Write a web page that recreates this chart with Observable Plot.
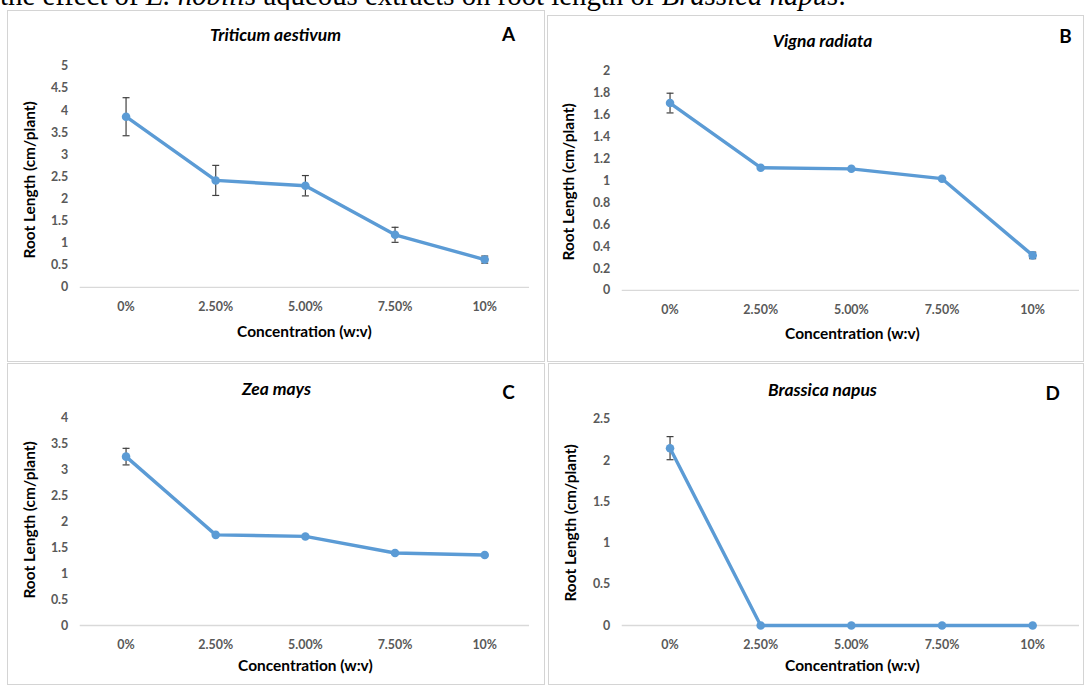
<!DOCTYPE html>
<html><head><meta charset="utf-8">
<script src="https://cdn.jsdelivr.net/npm/d3@7"></script>
<script src="https://cdn.jsdelivr.net/npm/@observablehq/plot@0.6"></script>
<style>
body{margin:0;background:#fff;}
#page{position:relative;width:1084px;height:685px;overflow:hidden;background:#fff;}
.panel{position:absolute;box-sizing:border-box;border:1.5px solid #d4d4d4;}
.panel svg{position:absolute;left:-1.5px;top:-1.5px;}
#caption{position:absolute;left:0px;top:-19px;font-family:"Liberation Serif","Times New Roman",serif;font-size:28.8px;line-height:28.8px;white-space:nowrap;color:#000;}
</style></head><body>
<div id="page"><div id="caption">the effect of <i>E. nobilis</i> aqueous extracts on root length of <i>Brassica napus</i>.</div></div>
<script>
// ---- data ----
const concentrations = ["0%", "2.50%", "5.00%", "7.50%", "10%"];
const triticumMean = [3.86, 2.42, 2.30, 1.19, 0.63];
const triticumErr  = [0.43, 0.34, 0.23, 0.17, 0.08];
const vignaMean    = [1.71, 1.12, 1.11, 1.02, 0.32];
const vignaErr     = [0.09, 0, 0, 0, 0.03];
const zeaMean      = [3.26, 1.75, 1.72, 1.40, 1.36];
const zeaErr       = [0.16, 0, 0, 0, 0];
const brassicaMean = [2.15, 0, 0, 0, 0];
const brassicaErr  = [0.14, 0, 0, 0, 0];
const ticksA = [0, 0.5, 1, 1.5, 2, 2.5, 3, 3.5, 4, 4.5, 5];
const ticksB = [0, 0.2, 0.4, 0.6, 0.8, 1, 1.2, 1.4, 1.6, 1.8, 2];
const ticksC = [0, 0.5, 1, 1.5, 2, 2.5, 3, 3.5, 4];
const ticksD = [0, 0.5, 1, 1.5, 2, 2.5];
const speciesTitles = ["Triticum aestivum", "Vigna radiata", "Zea mays", "Brassica napus"];
const panelLetters = ["A", "B", "C", "D"];
const yAxisTitle = "Root Length (cm/plant)";
const xAxisTitle = "Concentration (w:v)";

const BLUE = "#5b9bd5";
const FONT = "Lato, 'Open Sans', sans-serif";
const cap = {draw(ctx) { ctx.moveTo(-3.5, 0); ctx.lineTo(3.5, 0); }};

const panels = [
  {mean: triticumMean, err: triticumErr, ticks: ticksA, box: [7, 10, 538, 352],
   m: [56, 14, 74, 73], title: [269, 25], letter: [503, 25], ylab: [22.5, 170], xlab: [298, 323]},
  {mean: vignaMean, err: vignaErr, ticks: ticksB, box: [547, 15, 537, 347],
   m: [56, 3, 71, 75], title: [276, 26], letter: [520, 22], ylab: [22, 167], xlab: [306, 320]},
  {mean: zeaMean, err: zeaErr, ticks: ticksC, box: [7, 363, 538, 322],
   m: [55, 14, 59, 73], title: [270, 26], letter: [503, 30], ylab: [22.5, 157], xlab: [299, 304]},
  {mean: brassicaMean, err: brassicaErr, ticks: ticksD, box: [548, 363, 536, 322],
   m: [56, 3, 59, 74], title: [275, 27], letter: [506, 31], ylab: [23, 160], xlab: [305, 304]}
];

const page = document.getElementById("page");
panels.forEach((p, i) => {
  const [left, top, w, h] = p.box;
  const [mt, mr, mb, ml] = p.m;
  const data = concentrations.map((c, j) => ({c, v: p.mean[j], e: p.err[j]}));
  const errData = data.filter(d => d.e > 0);
  const at = ([px, py]) => ({frameAnchor: "top-left", lineAnchor: "middle", textAnchor: "middle", dx: px - ml, dy: py - mt});
  const chart = Plot.plot({
    width: w, height: h,
    marginTop: mt, marginRight: mr, marginBottom: mb, marginLeft: ml,
    style: {fontFamily: FONT, background: "transparent", overflow: "visible"},
    x: {type: "point", domain: concentrations, padding: 0.5, axis: null, label: null},
    y: {domain: [0, p.ticks[p.ticks.length - 1]], axis: null, label: null},
    marks: [
      Plot.axisY({ticks: p.ticks, tickSize: 0, tickPadding: 12, tickFormat: d => String(d),
        fontSize: 12.5, fontWeight: "bold", color: "#595959", label: null}),
      Plot.axisX({tickSize: 0, tickPadding: 15, fontSize: 12.5, fontWeight: "bold", color: "#595959", label: null}),
      Plot.ruleY([0], {stroke: "#d9d9d9", strokeWidth: 1.3}),
      Plot.ruleX(errData, {x: "c", y1: d => d.v - d.e, y2: d => d.v + d.e, stroke: "#404040", strokeWidth: 1.2}),
      Plot.dot(errData, {x: "c", y: d => d.v + d.e, symbol: cap, fill: "none", stroke: "#404040", strokeWidth: 1.2}),
      Plot.dot(errData, {x: "c", y: d => d.v - d.e, symbol: cap, fill: "none", stroke: "#404040", strokeWidth: 1.2}),
      Plot.line(data, {x: "c", y: "v", stroke: BLUE, strokeWidth: 3.4}),
      Plot.dot(data, {x: "c", y: "v", r: 4.3, fill: BLUE}),
      Plot.text([speciesTitles[i]], {...at(p.title), text: d => d, fontSize: 17.5, fontWeight: "bold", fontStyle: "italic", fill: "#000"}),
      Plot.text([panelLetters[i]], {...at(p.letter), text: d => d, fontSize: 19, fontWeight: "bold", fill: "#000"}),
      Plot.text([yAxisTitle], {...at(p.ylab), text: d => d, rotate: -90, fontSize: 15.5, fontWeight: "bold", fill: "#000"}),
      Plot.text([xAxisTitle], {...at(p.xlab), text: d => d, fontSize: 15.5, fontWeight: "bold", fill: "#000"})
    ]
  });
  const div = document.createElement("div");
  div.className = "panel";
  Object.assign(div.style, {left: left + "px", top: top + "px", width: w + "px", height: h + "px"});
  div.appendChild(chart);
  page.appendChild(div);
});
</script>
</body></html>
